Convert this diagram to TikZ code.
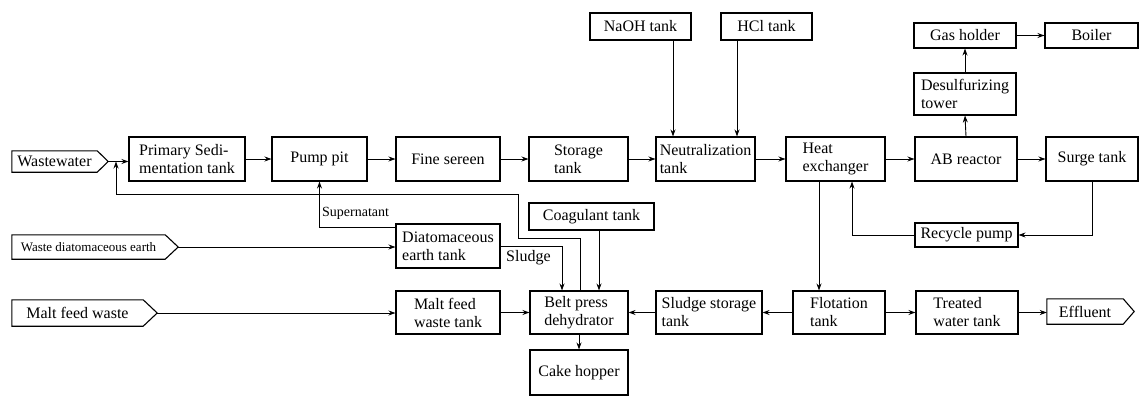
\documentclass[tikz,border=0pt]{standalone}
\usepackage{fontspec}
\setmainfont{Liberation Serif}
\usetikzlibrary{arrows.meta,calc}
\tikzset{
 box/.style={draw,line width=1.1pt,align=left,inner sep=1pt,font=\fontsize{16}{18}\selectfont},
 arr/.style={line width=0.9pt,-{Stealth[length=7pt,width=5pt]}},
 ln/.style={line width=0.9pt},
 src/.style={inner sep=0pt,font=\fontsize{16}{18}\selectfont},
 lbl/.style={inner sep=0pt,anchor=west},
}
\newcommand\srcoutline[2]{\draw[line width=1.1pt] (#1.north west) -- (#1.north east) -- ([xshift=#2]#1.east) coordinate (#1tip) -- (#1.south east) -- (#1.south west) -- cycle;}
\begin{document}
\begin{tikzpicture}[x=1pt,y=-1pt]
\useasboundingbox (0,0) rectangle (1143,396);
% sources
\node[src,minimum width=85pt,minimum height=21pt] (ww) at (54.5,161.5) {Wastewater};
\srcoutline{ww}{11}
\node[src,minimum width=153pt,minimum height=24pt,font=\fontsize{13}{15}\selectfont] (wde) at (88.5,247) {Waste diatomaceous earth};
\srcoutline{wde}{13}
\node[src,minimum width=131pt,minimum height=26pt] (mfw) at (77.5,313) {Malt feed waste};
\srcoutline{mfw}{14}
\node[src,minimum width=76pt,minimum height=25pt] (eff) at (1085,311.5) {Effluent};
\srcoutline{eff}{11}
% top row
\node[box,minimum width=116pt,minimum height=44pt] (prim) at (187,159) {Primary Sedi-\\mentation tank};
\node[box,minimum width=95pt,minimum height=44pt] (pump) at (319.5,159) {Pump pit};
\node[box,minimum width=104pt,minimum height=44pt] (fine) at (448,159) {Fine sereen};
\node[box,minimum width=99pt,minimum height=44pt] (stor) at (578.5,159) {Storage\\tank};
\node[box,minimum width=99pt,minimum height=44pt] (neut) at (705.5,159) {Neutralization\\tank};
\node[box,minimum width=99pt,minimum height=44pt] (heat) at (835.5,159) {Heat\\exchanger};
\node[box,minimum width=102pt,minimum height=44pt] (ab) at (966,159) {AB reactor};
\node[box,minimum width=92pt,minimum height=44pt] (surge) at (1092,159) {Surge tank};
% upper
\node[box,minimum width=101pt,minimum height=27pt] (naoh) at (640.5,26.5) {NaOH tank};
\node[box,minimum width=91pt,minimum height=27pt] (hcl) at (766.5,26.5) {HCl tank};
\node[box,minimum width=102pt,minimum height=25pt] (gas) at (965,35.5) {Gas holder};
\node[box,minimum width=93pt,minimum height=25pt] (boil) at (1091.5,35.5) {Boiler};
\node[box,minimum width=102pt,minimum height=42pt] (des) at (965,94) {Desulfurizing\\tower};
% middle
\node[box,minimum width=103pt,minimum height=24pt] (rec) at (966.5,235) {Recycle pump};
\node[box,minimum width=104pt,minimum height=44pt] (diat) at (448,246) {Diatomaceous\\earth tank};
\node[box,minimum width=125pt,minimum height=27pt] (coag) at (591.5,216.5) {Coagulant tank};
% bottom row
\node[box,minimum width=104pt,minimum height=43pt] (malt) at (448,312.5) {Malt feed\\waste tank};
\node[box,minimum width=98pt,minimum height=43pt] (belt) at (579,312.5) {Belt press\\dehydrator};
\node[box,minimum width=106pt,minimum height=43pt] (sls) at (709,312.5) {Sludge storage\\tank};
\node[box,minimum width=92pt,minimum height=43pt] (flot) at (839,312.5) {Flotation\\tank};
\node[box,minimum width=102pt,minimum height=43pt] (treat) at (967,312.5) {Treated\\water tank};
\node[box,minimum width=98pt,minimum height=45pt] (cake) at (579,372.5) {Cake hopper};
% labels
\node[lbl,font=\fontsize{14}{16}\selectfont] (sup) at (322,213) {Supernatant};
\node[lbl,font=\fontsize{16}{18}\selectfont] (slg) at (506,258) {Sludge};
% connectors top row
\coordinate (j) at (116,161.5);
\draw[arr] (wwtip) -- (wwtip -| prim.west);
\draw[arr] (prim.east) -- (pump.west);
\draw[arr] (pump.east) -- (fine.west);
\draw[arr] (fine.east) -- (stor.west);
\draw[arr] (stor.east) -- (neut.west);
\draw[arr] (neut.east) -- (heat.west);
\draw[arr] (heat.east) -- (ab.west);
\draw[arr] (ab.east) -- (surge.west);
\draw[arr] ([xshift=32.5pt]naoh.south) -- ([xshift=32.5pt]naoh.south |- neut.north);
\draw[arr] ([xshift=-29.5pt]hcl.south) -- ([xshift=-29.5pt]hcl.south |- neut.north);
\draw[arr] (ab.north) -- (des.south);
\draw[arr] (des.north) -- (gas.south);
\draw[arr] (gas.east) -- (boil.west);
% recycle
\draw[arr] (surge.south) |- (rec.east);
\draw[arr] (rec.west) -| ([xshift=16.5pt]heat.south);
\draw[arr] ([xshift=-16.5pt]heat.south) -- ([xshift=-16.5pt]heat.south |- flot.north);
% middle
\draw[arr] ([yshift=-4pt]diat.north west) -| (pump.south);
\draw[arr] (wdetip) -- (wdetip -| diat.west);
\draw[arr] (diat.east) -| ([xshift=-17pt]belt.north);
\draw[arr] ([xshift=7.5pt]coag.south) -- ([xshift=7.5pt]coag.south |- belt.north);
\draw[arr] ([xshift=1pt]belt.north) -- (580,238) -- (518,238) -- (518,194) -- (116,194) -- (j);
% bottom
\draw[arr] (mfwtip) -- (mfwtip -| malt.west);
\draw[arr] (malt.east) -- (belt.west);
\draw[arr] (sls.west) -- (belt.east);
\draw[arr] (flot.west) -- (sls.east);
\draw[arr] (flot.east) -- (treat.west);
\draw[arr] (treat.east) -- (treat.east -| eff.west);
\draw[arr] (belt.south) -- (cake.north);
\end{tikzpicture}
\end{document}
